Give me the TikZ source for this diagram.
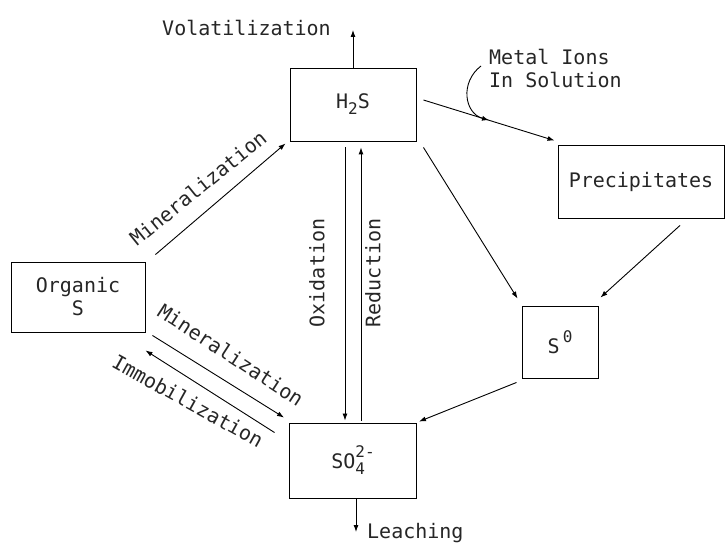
\documentclass[tikz,border=0pt]{standalone}
\usepackage{fontspec}
\setmonofont{DejaVu Sans Mono}
\usetikzlibrary{arrows.meta}
\newcommand\lowsub[1]{\raisebox{-0.55ex}{\fontsize{16}{16}\selectfont #1}}
\newcommand\highsup[1]{\raisebox{1.0ex}{\fontsize{16}{16}\selectfont #1}}
\begin{document}
\begin{tikzpicture}[x=1pt,y=-1pt,
  every node/.style={font=\fontsize{20}{23}\selectfont\ttfamily, text=black!85},
  box/.style={draw, line width=0.9pt, inner sep=0pt},
  conn/.style={line width=0.9pt, -{Latex[length=7pt,width=5pt]}},
  lbl/.style={inner sep=1pt}]
\useasboundingbox[fill=white] (0,0) rectangle (726,545);

% boxes
\node[box, minimum width=126pt, minimum height=73pt] (h2s) at (353,104.5) {H\lowsub{2}S};
\node[box, minimum width=166pt, minimum height=73pt] (prec) at (641,181.5) {Precipitates};
\node[box, minimum width=134pt, minimum height=70pt, align=center] (org) at (78,297) {Organic\\S};
\node[box, minimum width=76pt, minimum height=72pt] (s0) at (560,342) {S\,\highsup{0}};
\node[box, minimum width=127pt, minimum height=75pt] (so4) at (353,460.5) {SO\rlap{\lowsub{4}}\highsup{2-}};

% free ends
\coordinate (volend) at (353,30);
\coordinate (leachend) at (356,532);
\coordinate (mi) at (481,66);

% volatilization
\draw[conn] (h2s.north) -- (volend);
\node[lbl, anchor=east] (voltxt) at (332,28) {Volatilization};

% mineralization to H2S
\draw[conn] ([shift={(10,-7)}]org.north east) -- ([shift={(-4,2)}]h2s.south west);
\node[lbl, rotate=39] (min1) at (198,188) {Mineralization};

% oxidation / reduction
\draw[conn] ([shift={(-8,6)}]h2s.south) -- ([shift={(-8,-2)}]so4.north);
\draw[conn] ([shift={(8,-2)}]so4.north) -- ([shift={(8,6)}]h2s.south);
\node[lbl, rotate=90] (oxtxt) at (317,273) {Oxidation};
\node[lbl, rotate=90] (redtxt) at (373,273) {Reduction};

% H2S -> precipitates, with metal ions
\draw[conn] ([shift={(7,-4.5)}]h2s.east) -- coordinate[pos=0.5] (mij) ([shift={(-3,-4)}]prec.north west);
\draw[conn] (mi) .. controls (460,82) and (464,113) .. (mij);
\node[lbl, anchor=west, align=left] (metal) at (488,68) {Metal Ions\\In Solution};

% to S0
\draw[conn] ([shift={(7,6)}]h2s.south east) -- ([shift={(-4,-7)}]s0.north west);
\draw[conn] ([shift={(39,7)}]prec.south) -- ([shift={(2,-8)}]s0.north east);
\draw[conn] ([shift={(-5,4)}]s0.south west) -- ([shift={(2,-1)}]so4.north east);

% organic <-> sulfate
\draw[conn] ([shift={(7,3)}]org.south east) -- ([shift={(-5,-5)}]so4.north west);
\draw[conn] ([shift={(-14.5,10)}]so4.north west) -- ([shift={(0,18)}]org.south east);
\node[lbl, rotate=-33] (min2) at (231,355) {Mineralization};
\node[lbl, rotate=-29] (immo) at (188,401) {Immobilization};

% leaching
\draw[conn] ([xshift=3pt]so4.south) -- (leachend);
\node[lbl, anchor=west] (leachtxt) at (366,533) {Leaching};
\end{tikzpicture}
\end{document}
